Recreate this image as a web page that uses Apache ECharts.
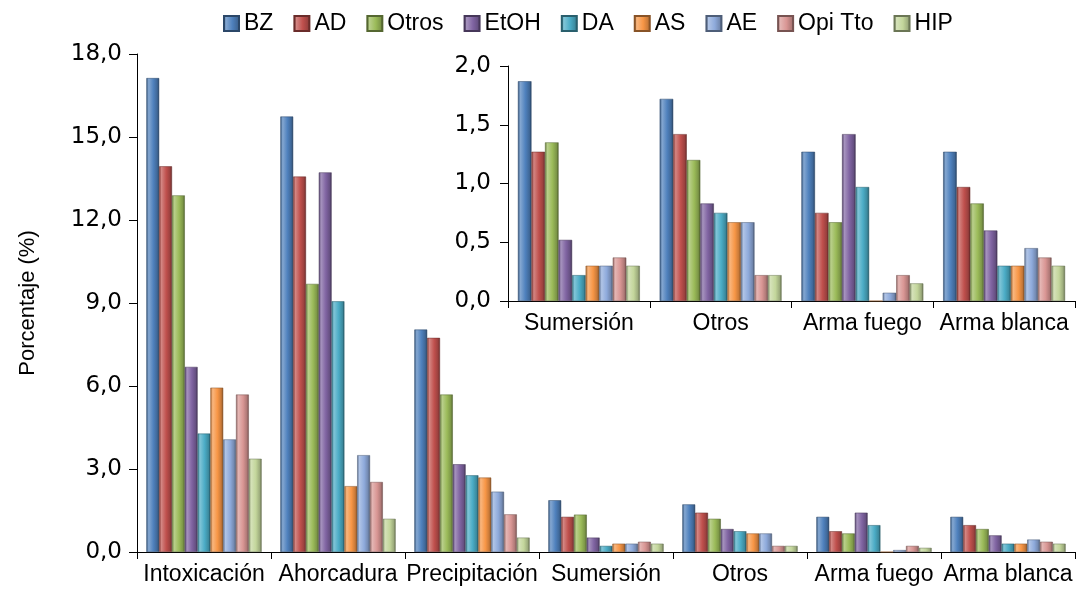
<!DOCTYPE html>
<html>
<head>
<meta charset="utf-8">
<script src="https://cdn.jsdelivr.net/npm/echarts@6/dist/echarts.min.js"></script>
<style>
  html, body { margin: 0; padding: 0; background: #fff; }
  #chart { width: 1080px; height: 589px; }
</style>
</head>
<body>
<div id="chart"></div>
<script>
// categorías del gráfico principal y del recuadro
var categorias = ['Intoxicación', 'Ahorcadura', 'Precipitación', 'Sumersión', 'Otros', 'Arma fuego', 'Arma blanca'];
var categoriasRecuadro = categorias.slice(3);

var nombres = ['BZ', 'AD', 'Otros', 'EtOH', 'DA', 'AS', 'AE', 'Opi Tto', 'HIP'];

// porcentajes por grupo (%)
var BZ    = [17.13, 15.74, 8.04, 1.87, 1.72, 1.27, 1.27];
var AD    = [13.94, 13.57, 7.74, 1.27, 1.42, 0.75, 0.97];
var Otros = [12.89, 9.69, 5.69, 1.35, 1.20, 0.67, 0.83];
var EtOH  = [6.69, 13.72, 3.17, 0.52, 0.83, 1.42, 0.60];
var DA    = [4.28, 9.06, 2.77, 0.22, 0.75, 0.97, 0.30];
var AS    = [5.94, 2.38, 2.69, 0.30, 0.67, 0, 0.30];
var AE    = [4.07, 3.50, 2.18, 0.30, 0.67, 0.07, 0.45];
var OpiTto = [5.69, 2.53, 1.36, 0.37, 0.22, 0.22, 0.37];
var HIP   = [3.37, 1.20, 0.52, 0.30, 0.22, 0.15, 0.30];

var datos = [BZ, AD, Otros, EtOH, DA, AS, AE, OpiTto, HIP];

var colores = ['#4f81bd', '#c0504d', '#9bbb59', '#8064a2', '#4bacc6', '#f79646', '#8eaadb', '#d99694', '#c3d69b'];

// aclarar / oscurecer un color hex
function tono(hex, f) {
  var n = parseInt(hex.slice(1), 16);
  var r = (n >> 16) & 255, g = (n >> 8) & 255, b = n & 255;
  function c(v) {
    v = f > 0 ? v + (255 - v) * f : v * (1 + f);
    return Math.round(Math.max(0, Math.min(255, v)));
  }
  return 'rgb(' + c(r) + ',' + c(g) + ',' + c(b) + ')';
}

// relleno con efecto bisel
function relleno(hex) {
  return new echarts.graphic.LinearGradient(0, 0, 1, 0, [
    { offset: 0, color: tono(hex, -0.35) },
    { offset: 0.18, color: tono(hex, 0.3) },
    { offset: 0.55, color: hex },
    { offset: 0.85, color: tono(hex, -0.2) },
    { offset: 1, color: tono(hex, -0.5) }
  ]);
}

function coma(v) {
  return v.toFixed(1).replace('.', ',');
}

var ejeX = {
  type: 'category',
  axisLine: { lineStyle: { color: '#000', width: 1 } },
  axisTick: { show: true, length: 7, lineStyle: { color: '#000' } },
  axisLabel: { color: '#000', fontSize: 23, fontFamily: 'Liberation Sans', interval: 0, margin: 11 }
};

var ejeY = {
  type: 'value',
  min: 0,
  splitLine: { show: false },
  axisLine: { show: true, lineStyle: { color: '#000' } },
  axisTick: { show: true, length: 8, lineStyle: { color: '#000' } },
  axisLabel: { color: '#000', fontSize: 23, fontFamily: 'DejaVu Sans', margin: 15, formatter: coma }
};

var series = [];
nombres.forEach(function (nombre, i) {
  series.push({
    name: nombre,
    type: 'bar',
    xAxisIndex: 0,
    yAxisIndex: 0,
    barGap: '0%',
    barCategoryGap: '14%',
    itemStyle: { color: relleno(colores[i]), borderColor: tono(colores[i], -0.45), borderWidth: 0.5 },
    data: datos[i]
  });
});
nombres.forEach(function (nombre, i) {
  series.push({
    name: nombre,
    type: 'bar',
    xAxisIndex: 1,
    yAxisIndex: 1,
    barGap: '0%',
    barCategoryGap: '14%',
    itemStyle: { color: relleno(colores[i]), borderColor: tono(colores[i], -0.45), borderWidth: 0.5 },
    data: datos[i].slice(3)
  });
});

var myChart = echarts.init(document.getElementById('chart'));
myChart.setOption({
  animation: false,
  backgroundColor: '#fff',
  legend: {
    data: nombres.map(function (n, i) { return { name: n, itemStyle: { color: relleno(colores[i]) } }; }),
    left: 223,
    top: 12,
    padding: 0,
    itemWidth: 15,
    itemHeight: 15,
    itemGap: 20,
    icon: 'rect',
    textStyle: { fontSize: 23, fontFamily: 'Liberation Sans', color: '#000' }
  },
  grid: [
    { left: 137, right: 5, top: 54, bottom: 37 },
    { left: 508, right: 5, top: 66, bottom: 288 }
  ],
  xAxis: [
    Object.assign({}, ejeX, { gridIndex: 0, data: categorias }),
    Object.assign({}, ejeX, { gridIndex: 1, data: categoriasRecuadro })
  ],
  yAxis: [
    Object.assign({}, ejeY, {
      gridIndex: 0,
      max: 18,
      interval: 3,
      name: 'Porcentaje (%)',
      nameLocation: 'middle',
      nameGap: 98,
      nameTextStyle: { fontSize: 22, fontFamily: 'Liberation Sans', color: '#000' }
    }),
    Object.assign({}, ejeY, {
      gridIndex: 1,
      max: 2,
      interval: 0.5,
      axisLabel: Object.assign({}, ejeY.axisLabel, { margin: 17 })
    })
  ],
  series: series
});
</script>
</body>
</html>
